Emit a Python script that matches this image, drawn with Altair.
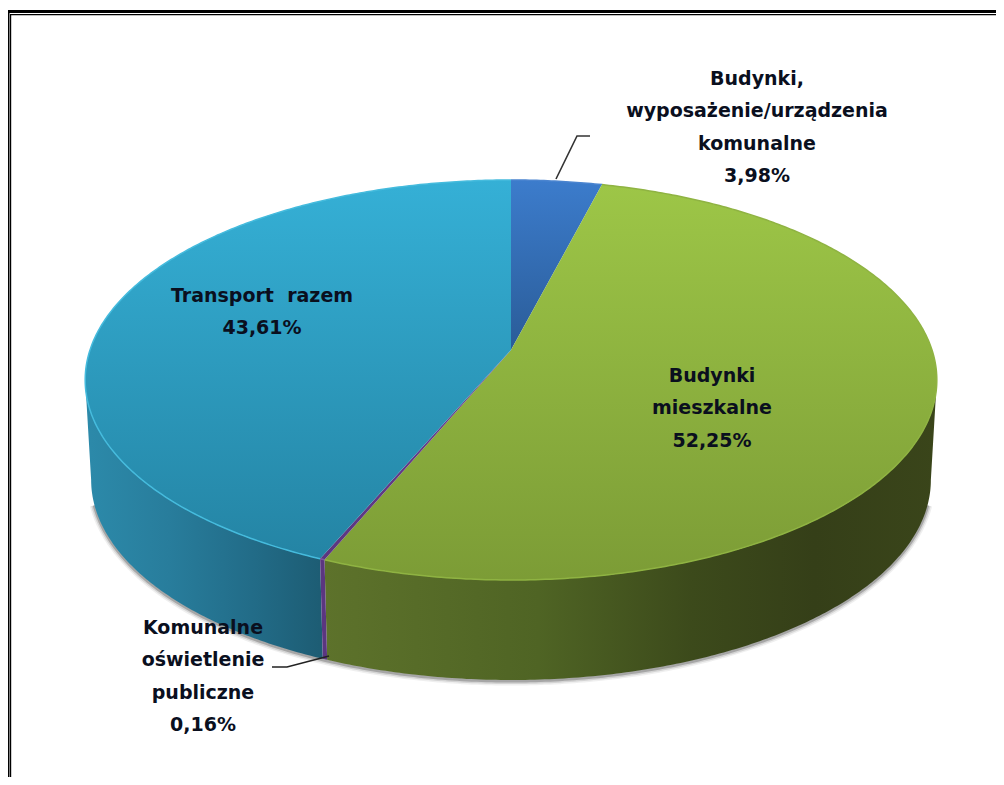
import math
import altair as alt

# ---- values
categories = ["Budynki, wyposażenie/urządzenia komunalne", "Budynki mieszkalne",
              "Komunalne oświetlenie publiczne", "Transport razem"]
shares = [3.98, 52.25, 0.16, 43.61]
label_lines = [["Budynki,", "wyposażenie/urządzenia", "komunalne"],
               ["Budynki", "mieszkalne"],
               ["Komunalne", "oświetlenie", "publiczne"],
               ["Transport\u00a0\u00a0razem"]]
top_colors = [["#3C7CCC", "#2A5C98"], ["#9DC647", "#7C9C36"],
              ["#6A3F8E", "#5B3680"], ["#35B0D6", "#2484A4"]]
wall_stops = {1: [(0, "#5D722B"), (0.35, "#4F6424"), (0.6, "#3C4A1B"), (0.8, "#353F18"), (1, "#3A451A")],
              3: [(0, "#2C8AAA"), (0.35, "#287D9C"), (0.7, "#226C88"), (1, "#1D5C73")]}
rim_colors = ["#4A84CF", "#8FB342", "#7D58A0", "#45BBDD"]

# ---- pie geometry (perspective view of a circular disc)
CX, CY = 511, 350
A, B, K = 195.5, 421.0, 0.15
DEPTH = 100
BOTTOM_SCALE = 0.986
FONT = "DejaVu Sans"
FS = 19


def rim(theta, dy=0):
    X, Y = math.sin(theta), -math.cos(theta)
    w = 1 - K * Y
    sx = BOTTOM_SCALE if dy else 1
    return [CX + sx * B * X / w, CY + A * Y / w + dy]


def arc(t0, t1, dy=0, step=0.01):
    n = max(2, int(abs(t1 - t0) / step) + 1)
    return [rim(t0 + (t1 - t0) * i / (n - 1), dy) for i in range(n)]


def feat(kind, coords):
    return alt.Data(values=[{"type": "Feature", "properties": {},
                             "geometry": {"type": kind, "coordinates": coords}}])


def poly(points):
    return feat("Polygon", [points + [points[0]]])


def line(points):
    return feat("LineString", points)


edges = [0.0]
for s in shares:
    edges.append(edges[-1] + s / sum(shares) * 2 * math.pi)

TH_R = math.acos(-K)
TH_L = 2 * math.pi - TH_R

layers = []


def shape(data, **kw):
    return alt.Chart(data).mark_geoshape(**kw)


# frame
for rect in ([[8, 10], [996, 10], [996, 13], [8, 13]],
             [[8, 10], [9.5, 10], [9.5, 777], [8, 777]],
             [[10, 14], [996, 14], [996, 15.2], [10, 15.2]],
             [[10, 14], [11.2, 14], [11.2, 777], [10, 777]]):
    layers.append(shape(poly(rect), fill="black", stroke=None))

# soft shadow under the disc
for width, op in ((9, 0.08), (6, 0.14), (3, 0.28)):
    layers.append(shape(line(arc(TH_R + 0.12, TH_L - 0.12, DEPTH + 1)), filled=False, stroke="#303030",
                        strokeWidth=width, strokeOpacity=op))

# walls
for i, (t0, t1) in {1: (TH_R, edges[2]), 3: (edges[3], TH_L)}.items():
    pts = arc(t0, t1) + arc(t1, t0, DEPTH)
    grad = alt.Gradient(gradient="linear", x1=0, x2=1, y1=0, y2=0,
                        stops=[alt.GradientStop(offset=o, color=c) for o, c in wall_stops[i]])
    layers.append(shape(poly(pts), fill=grad, stroke=None))
layers.append(shape(poly(arc(edges[2], edges[3]) + arc(edges[3], edges[2], DEPTH)),
                    fill="#5B3680", stroke=None))

# top slices
for i in range(4):
    pts = [[CX, CY]] + arc(edges[i], edges[i + 1])
    grad = alt.Gradient(gradient="linear", x1=0, x2=0, y1=0, y2=1,
                        stops=[alt.GradientStop(offset=0, color=top_colors[i][0]),
                               alt.GradientStop(offset=1, color=top_colors[i][1])])
    layers.append(shape(poly(pts), fill=grad, stroke=None))

# bevel along the rim
for i in range(4):
    layers.append(shape(line(arc(edges[i], edges[i + 1])), filled=False,
                        stroke=rim_colors[i], strokeWidth=1.5))

# leader lines
layers.append(shape(line([[556, 179], [577, 136], [590, 136]]), filled=False, stroke="#333333", strokeWidth=1.6))
layers.append(shape(line([[329, 656], [287, 667], [272, 667]]), filled=False, stroke="#222222", strokeWidth=1.6))

# labels
anchors = [(757, 79), (712, 376), (203, 628), (262, 296)]
rows = []
for i, lines in enumerate(label_lines):
    all_lines = lines + [f"{shares[i]:.2f}%".replace(".", ",")]
    for j, txt in enumerate(all_lines):
        rows.append({"t": txt, "lon": anchors[i][0], "lat": anchors[i][1] + j * 32.4})
layers.append(alt.Chart(alt.Data(values=rows)).mark_text(
    font=FONT, fontSize=FS, fontWeight="bold", color="#0A0F1E", align="center", baseline="middle"
).encode(longitude="lon:Q", latitude="lat:Q", text="t:N"))

chart = alt.layer(*layers).project(
    type="identity", scale=1, translate=[-8, -8]
).properties(
    width=988, height=769, padding=0, autosize=alt.AutoSizeParams(type="none"), background="white"
).configure_view(stroke=None)

chart.save("out.html", embed_options={"renderer": "svg", "actions": False})
